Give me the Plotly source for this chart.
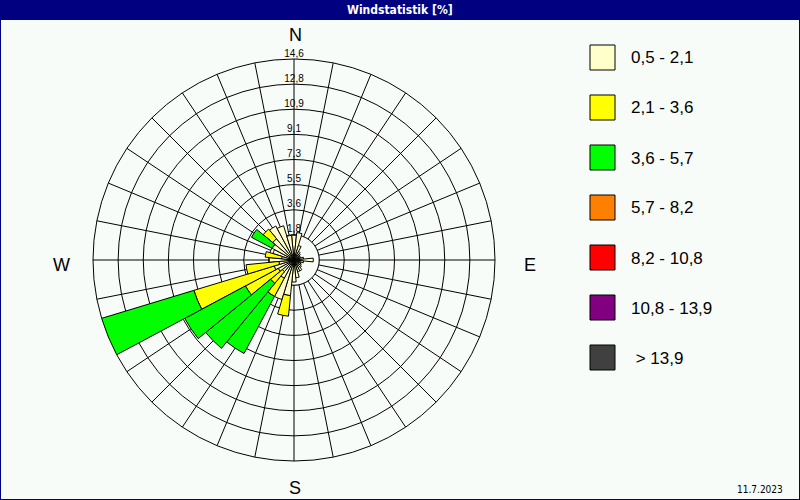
import plotly.graph_objects as go

# ---------------- data ----------------
directions = [0, 11.25, 22.5, 33.75, 45, 56.25, 67.5, 78.75,
              90, 101.25, 112.5, 123.75, 135, 146.25, 157.5, 168.75,
              180, 191.25, 202.5, 213.75, 225, 236.25, 247.5, 258.75,
              270, 281.25, 292.5, 303.75, 315, 326.25, 337.5, 348.75]

speed_classes = ["0,5 - 2,1", "2,1 - 3,6", "3,6 - 5,7", "5,7 - 8,2",
                 "8,2 - 10,8", "10,8 - 13,9", " > 13,9"]
class_colors = ["#FFFFCC", "#FFFF00", "#00FF00", "#FF8000",
                "#FF0000", "#800080", "#404040"]

# frequency in % per direction for each speed class
freq_05_21 = [1.8, 2.0, 1.1, 0.7, 0.6, 0.5, 0.5, 0.7,
              1.4, 0.7, 0.5, 0.6, 0.7, 0.9, 0.9, 1.3,
              1.6, 2.6, 3.0, 1.5, 1.1, 1.3, 1.5, 1.1,
              1.8, 0.9, 1.6, 1.8, 2.0, 2.8, 2.6, 1.8]
freq_21_36 = [0, 0, 0, 0, 0, 0, 0, 0,
              0, 0, 0, 0, 0, 0, 0, 0,
              0, 1.5, 0, 1.5, 1.1, 2.7, 6.1, 2.4,
              0, 1.2, 0, 0, 0.9, 0, 0, 0]
freq_36_57 = [0, 0, 0, 0, 0, 0, 0, 0,
              0, 0, 0, 0, 0, 0, 0, 0,
              0, 0, 0, 4.7, 6.1, 5.0, 7.0, 0,
              0, 0, 0, 1.7, 0, 0, 0, 0]
freq_57_82 = [0, 0, 0, 0, 0, 0, 0, 0, 0, 0, 0, 0, 0, 0, 0, 0,
              0, 0, 0, 0, 0, 0, 0, 0, 0, 0, 0, 0, 0, 0, 0, 0]
freq_82_108 = [0, 0, 0, 0, 0, 0, 0, 0, 0, 0, 0, 0, 0, 0, 0, 0,
               0, 0, 0, 0, 0, 0, 0, 0, 0, 0, 0, 0, 0, 0, 0, 0]
freq_108_139 = [0, 0, 0, 0, 0, 0, 0, 0, 0, 0, 0, 0, 0, 0, 0, 0,
                0, 0, 0, 0, 0, 0, 0, 0, 0, 0, 0, 0, 0, 0, 0, 0]
freq_139 = [0, 0, 0, 0, 0, 0, 0, 0, 0, 0, 0, 0, 0, 0, 0, 0,
            0, 0, 0, 0, 0, 0, 0, 0, 0, 0, 0, 0, 0, 0, 0, 0]

ring_values = [1.825, 3.65, 5.475, 7.3, 9.125, 10.95, 12.775, 14.6]
ring_labels = ["1,8", "3,6", "5,5", "7,3", "9,1", "10,9", "12,8", "14,6"]
r_max = 14.6

compass_labels = ["N", "E", "S", "W"]
title_text = "Windstatistik [%]"
date_text = "11.7.2023"

# ---------------- style ----------------
BG = "#F8FCF8"
NAVY = "#000080"
FONT = "Liberation Sans, Arial, sans-serif"
NARROW = "Liberation Sans Narrow, DejaVu Sans Condensed, Arial Narrow, sans-serif"
W, H = 800, 500
cx, cy, R = 294, 260, 201

series = [freq_05_21, freq_21_36, freq_36_57, freq_57_82,
          freq_82_108, freq_108_139, freq_139]

fig = go.Figure()

# calm circle (covers spokes inside the innermost ring) - back subplot
calm_theta = list(range(0, 361, 2))
fig.add_trace(go.Scatterpolar(
    r=[ring_values[0]] * len(calm_theta), theta=calm_theta,
    mode="lines", fill="toself", fillcolor=BG,
    line=dict(color="black", width=1), hoverinfo="skip",
    subplot="polar", showlegend=False))

# bars - front subplot
for name, color, vals in zip(speed_classes, class_colors, series):
    fig.add_trace(go.Barpolar(
        r=[v if v > 0 else None for v in vals], theta=directions,
        width=[11.25] * len(directions),
        marker=dict(color=color, line=dict(color="black", width=1)),
        name=name, subplot="polar2", showlegend=False))

# ring labels along north spoke
fig.add_trace(go.Scatterpolar(
    r=ring_values, theta=[0] * len(ring_values), mode="text",
    text=ring_labels, textposition="top center",
    textfont=dict(family=FONT, size=10, color="black"),
    subplot="polar2", showlegend=False, hoverinfo="skip", cliponaxis=False))

dom_x = [(cx - R) / W, (cx + R) / W]
dom_y = [(H - cy - R) / H, (H - cy + R) / H]

fig.update_layout(
    width=W, height=H,
    margin=dict(l=0, r=0, t=0, b=0),
    paper_bgcolor=BG, plot_bgcolor=BG,
    showlegend=False,
    polar=dict(
        domain=dict(x=dom_x, y=dom_y),
        bgcolor=BG,
        radialaxis=dict(range=[0, r_max], tickmode="array", tickvals=ring_values,
                        showticklabels=False, ticks="", showline=False,
                        gridcolor="black", gridwidth=1),
        angularaxis=dict(rotation=90, direction="clockwise",
                         tickmode="array", tickvals=directions,
                         showticklabels=False, ticks="",
                         showgrid=True, gridcolor="black", gridwidth=1,
                         showline=True, linecolor="black", linewidth=1),
    ),
    polar2=dict(
        domain=dict(x=dom_x, y=dom_y),
        bgcolor="rgba(0,0,0,0)",
        bargap=0, barmode="stack",
        radialaxis=dict(range=[0, r_max], visible=False, showgrid=False),
        angularaxis=dict(rotation=90, direction="clockwise", visible=False,
                         showgrid=False, showline=False),
    ),
)

shapes = []
annotations = []

# title bar
shapes.append(dict(type="rect", xref="paper", yref="paper",
                   x0=0, x1=1, y0=1 - 20 / H, y1=1,
                   fillcolor=NAVY, line=dict(width=0), layer="above"))
annotations.append(dict(text="<b>" + title_text + "</b>", xref="paper", yref="paper",
                        x=0.5, y=1 - 10 / H, xanchor="center", yanchor="middle",
                        showarrow=False,
                        font=dict(family=NARROW, size=12, color="white")))
# outer border
shapes.append(dict(type="rect", xref="paper", yref="paper", x0=0, x1=1, y0=0, y1=1,
                   line=dict(color=NAVY, width=2), layer="above"))

# compass labels
compass_pos = {"N": (295, 35), "E": (530, 265), "S": (295, 488), "W": (61, 265)}
for lab in compass_labels:
    px, py = compass_pos[lab]
    annotations.append(dict(text=lab, xref="paper", yref="paper",
                            x=px / W, y=1 - py / H, xanchor="center", yanchor="middle",
                            showarrow=False, font=dict(family=FONT, size=18, color="black")))

# legend
for i, (name, color) in enumerate(zip(speed_classes, class_colors)):
    top = 45 + 50 * i
    shapes.append(dict(type="rect", xref="paper", yref="paper",
                       x0=590 / W, x1=615 / W, y0=1 - (top + 25) / H, y1=1 - top / H,
                       fillcolor=color, line=dict(color="black", width=1), layer="above"))
    label = name.replace(" ", "\u00a0", 1) if name.startswith(" ") else name
    annotations.append(dict(text=label, xref="paper", yref="paper",
                            x=629 / W, y=1 - (top + 13) / H, xanchor="left", yanchor="middle",
                            showarrow=False, font=dict(family=FONT, size=17, color="black")))

# date
annotations.append(dict(text=date_text, xref="paper", yref="paper",
                        x=785 / W, y=1 - 489 / H, xanchor="right", yanchor="middle",
                        showarrow=False, font=dict(family=NARROW, size=10, color="black")))

fig.update_layout(shapes=shapes, annotations=annotations)

fig.write_html(
    "out.html",
    config={"displayModeBar": False},
    post_script="document.body.style.margin='0';document.body.style.padding='0';"
                "document.body.style.overflow='hidden';"
                "document.documentElement.style.overflow='hidden';",
)
